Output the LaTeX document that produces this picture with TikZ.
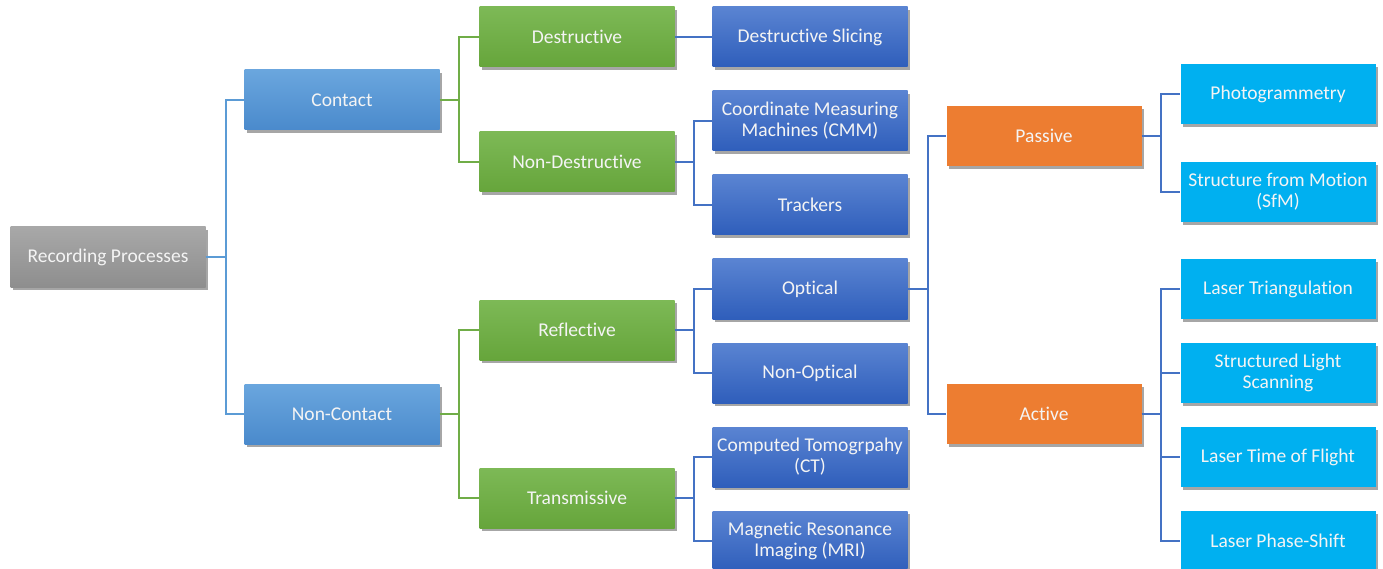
\documentclass[tikz,border=0pt]{standalone}
\usepackage{fontspec}
\setmainfont{Carlito}[Ligatures={NoCommon}]
\usetikzlibrary{shadows}
\definecolor{cgrayT}{HTML}{A8A8A8}
\definecolor{cgrayB}{HTML}{8E8E8E}
\definecolor{cblueT}{HTML}{6AA6DE}
\definecolor{cblueB}{HTML}{4A8ACC}
\definecolor{cgreenT}{HTML}{7DB956}
\definecolor{cgreenB}{HTML}{66A53B}
\definecolor{cdblueT}{HTML}{5A84D2}
\definecolor{cdblueB}{HTML}{2F5EBB}
\definecolor{corange}{HTML}{ED7D31}
\definecolor{ccyan}{HTML}{00B0F0}
\definecolor{lblue}{HTML}{5B9BD5}
\definecolor{lgreen}{HTML}{70AD47}
\definecolor{ldblue}{HTML}{4472C4}
\definecolor{ctext}{HTML}{F4F4F4}
\tikzset{
  box/.style={minimum width=195pt, minimum height=60pt, inner sep=0pt, align=center,
    text=ctext, font=\fontsize{19.5}{21}\selectfont,
    drop shadow={shadow xshift=2pt, shadow yshift=-3pt, opacity=0.35, fill=black}},
  graybox/.style={box, top color=cgrayT, bottom color=cgrayB},
  bluebox/.style={box, top color=cblueT, bottom color=cblueB},
  greenbox/.style={box, top color=cgreenT, bottom color=cgreenB},
  dbluebox/.style={box, top color=cdblueT, bottom color=cdblueB},
  orangebox/.style={box, fill=corange},
  cyanbox/.style={box, fill=ccyan},
  conn/.style={line width=1.8pt},
}
\begin{document}
\begin{tikzpicture}[x=1pt,y=-1pt]
\useasboundingbox (0,0) rectangle (1383,569);
\clip (0,0) rectangle (1383,569);
% nodes
\node[graybox] (rp) at (108,257) {Recording Processes};
\node[bluebox] (ct) at (342,100) {Contact};
\node[bluebox] (nc) at (342,414) {Non-Contact};
\node[greenbox] (de) at (577,37) {Destructive};
\node[greenbox] (nd) at (577,162) {Non-Destructive};
\node[greenbox] (rf) at (577,330) {Reflective};
\node[greenbox] (tr) at (577,498) {Transmissive};
\node[dbluebox] (ds) at (810,37) {Destructive Slicing};
\node[dbluebox] (cmm) at (810,121) {Coordinate Measuring\\Machines (CMM)};
\node[dbluebox] (tk) at (810,205) {Trackers};
\node[dbluebox] (op) at (810,289) {Optical};
\node[dbluebox] (no) at (810,373) {Non-Optical};
\node[dbluebox] (cto) at (810,457) {Computed Tomogrpahy\\(CT)};
\node[dbluebox] (mri) at (810,541) {Magnetic Resonance\\Imaging (MRI)};
\node[orangebox] (pa) at (1044,136) {Passive};
\node[orangebox] (ac) at (1044,414) {Active};
\node[cyanbox] (ph) at (1278,94) {Photogrammetry};
\node[cyanbox] (sfm) at (1278,192) {Structure from Motion\\(SfM)};
\node[cyanbox] (lt) at (1278,289) {Laser Triangulation};
\node[cyanbox] (sl) at (1278,373) {Structured Light\\Scanning};
\node[cyanbox] (tof) at (1278,457) {Laser Time of Flight};
\node[cyanbox] (ps) at (1278,541) {Laser Phase-Shift};
% connectors
\foreach \t in {ct,nc} \draw[conn,lblue] (rp.east) -- (226,257) |- (\t.west);
\foreach \t in {de,nd} \draw[conn,lgreen] (ct.east) -- (459,100) |- (\t.west);
\foreach \t in {rf,tr} \draw[conn,lgreen] (nc.east) -- (459,414) |- (\t.west);
\draw[conn,ldblue] (de.east) -- (ds.west);
\foreach \t in {cmm,tk} \draw[conn,ldblue] (nd.east) -- (694,162) |- (\t.west);
\foreach \t in {op,no} \draw[conn,ldblue] (rf.east) -- (694,330) |- (\t.west);
\foreach \t in {cto,mri} \draw[conn,ldblue] (tr.east) -- (694,498) |- (\t.west);
\foreach \t in {pa,ac} \draw[conn,ldblue] (op.east) -- (928,289) |- (\t.west);
\foreach \t in {ph,sfm} \draw[conn,ldblue] (pa.east) -- (1161,136) |- (\t.west);
\foreach \t in {lt,sl,tof,ps} \draw[conn,ldblue] (ac.east) -- (1161,414) |- (\t.west);
\end{tikzpicture}
\end{document}
